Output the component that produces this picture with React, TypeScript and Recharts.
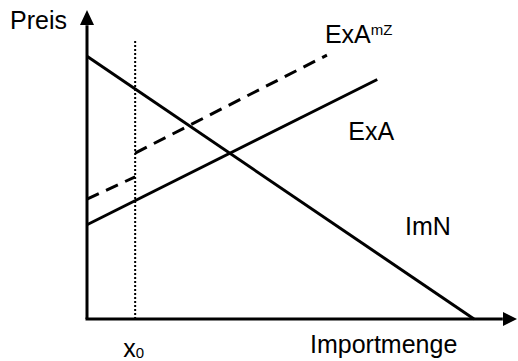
import React from "react";
import { LineChart, Line, XAxis, YAxis, ReferenceLine, ReferenceDot } from "recharts";

// Werte in Diagrammeinheiten (0..100 auf beiden Achsen)
const X0 = 11.2;
const imnPoints = [
  { x: 0, y: 85 },
  { x: 90, y: 0 },
];
const exaPoints = [
  { x: 0, y: 30.5 },
  { x: 67.5, y: 77.5 },
];
const exaMzLow = [
  { x: 0, y: 38.8 },
  { x: X0, y: 46 },
];
const exaMzHigh = [
  { x: X0, y: 53.7 },
  { x: 55.8, y: 85.4 },
];
const x0Line = [
  { x: X0, y: 0 },
  { x: X0, y: 90.3 },
];

const FONT = "'Liberation Sans', Arial, sans-serif";
const SIZE = 25;

type DotProps = { cx?: number; cy?: number };

const arrowUp = ({ cx = 0, cy = 0 }: DotProps) => (
  <polygon points={`${cx},${cy} ${cx - 7},${cy + 15} ${cx + 7},${cy + 15}`} fill="#000" />
);
const arrowRight = ({ cx = 0, cy = 0 }: DotProps) => (
  <polygon points={`${cx},${cy} ${cx - 14},${cy - 7} ${cx - 14},${cy + 7}`} fill="#000" />
);

const textAt = (content: React.ReactNode, dx: number, dy: number) =>
  ({ cx = 0, cy = 0 }: DotProps) => (
    <text x={cx + dx} y={cy + dy} fontFamily={FONT} fontSize={SIZE} fill="#000">
      {content}
    </text>
  );

export default function App() {
  const lineProps = {
    dataKey: "y",
    stroke: "#000",
    strokeWidth: 3,
    dot: false,
    activeDot: false,
    isAnimationActive: false,
    legendType: "none" as const,
  };

  return (
    <div style={{ position: "absolute", left: 0, top: 0, background: "#fff" }}>
      <LineChart width={518} height={361} margin={{ top: 10, right: 1, bottom: 42, left: 87 }}>
        <XAxis type="number" dataKey="x" domain={[0, 100]} hide />
        <YAxis type="number" domain={[0, 100]} hide />

        {/* Achsen */}
        <ReferenceLine
          segment={[{ x: 0, y: 0 }, { x: 0, y: 95.1 }]}
          stroke="#000"
          strokeWidth={3}
          ifOverflow="visible"
        />
        <ReferenceLine
          segment={[{ x: -0.35, y: 0 }, { x: 96.7, y: 0 }]}
          stroke="#000"
          strokeWidth={3}
          ifOverflow="visible"
        />
        <ReferenceDot x={0} y={100} r={0} shape={arrowUp} ifOverflow="visible" />
        <ReferenceDot x={100} y={0} r={0} shape={arrowRight} ifOverflow="visible" />

        <Line {...lineProps} data={x0Line} strokeWidth={2} strokeDasharray="2 2" />
        <Line {...lineProps} data={imnPoints} />
        <Line {...lineProps} data={exaPoints} />
        <Line {...lineProps} data={exaMzLow} strokeDasharray="13 8" />
        <Line {...lineProps} data={exaMzHigh} strokeDasharray="13 8" />

        {/* Beschriftungen */}
        <ReferenceDot x={0} y={100} r={0} ifOverflow="visible" shape={textAt("Preis", -77, 19)} />
        <ReferenceDot
          x={exaMzHigh[1].x}
          y={exaMzHigh[1].y}
          r={0}
          ifOverflow="visible"
          shape={textAt(
            <>
              ExA
              <tspan fontSize={15} dy={-8}>
                mZ
              </tspan>
            </>,
            -2,
            -12
          )}
        />
        <ReferenceDot x={exaPoints[1].x} y={exaPoints[1].y} r={0} ifOverflow="visible" shape={textAt("ExA", -29, 60)} />
        <ReferenceDot x={imnPoints[1].x} y={imnPoints[1].y} r={0} ifOverflow="visible" shape={textAt("ImN", -69, -84)} />
        <ReferenceDot
          x={X0}
          y={0}
          r={0}
          ifOverflow="visible"
          shape={textAt(
            <>
              x
              <tspan fontSize={15} dy={1}>
                0
              </tspan>
            </>,
            -12,
            38
          )}
        />
        <ReferenceDot x={100} y={0} r={0} ifOverflow="visible" shape={textAt("Importmenge", -207, 34)} />
      </LineChart>
    </div>
  );
}
